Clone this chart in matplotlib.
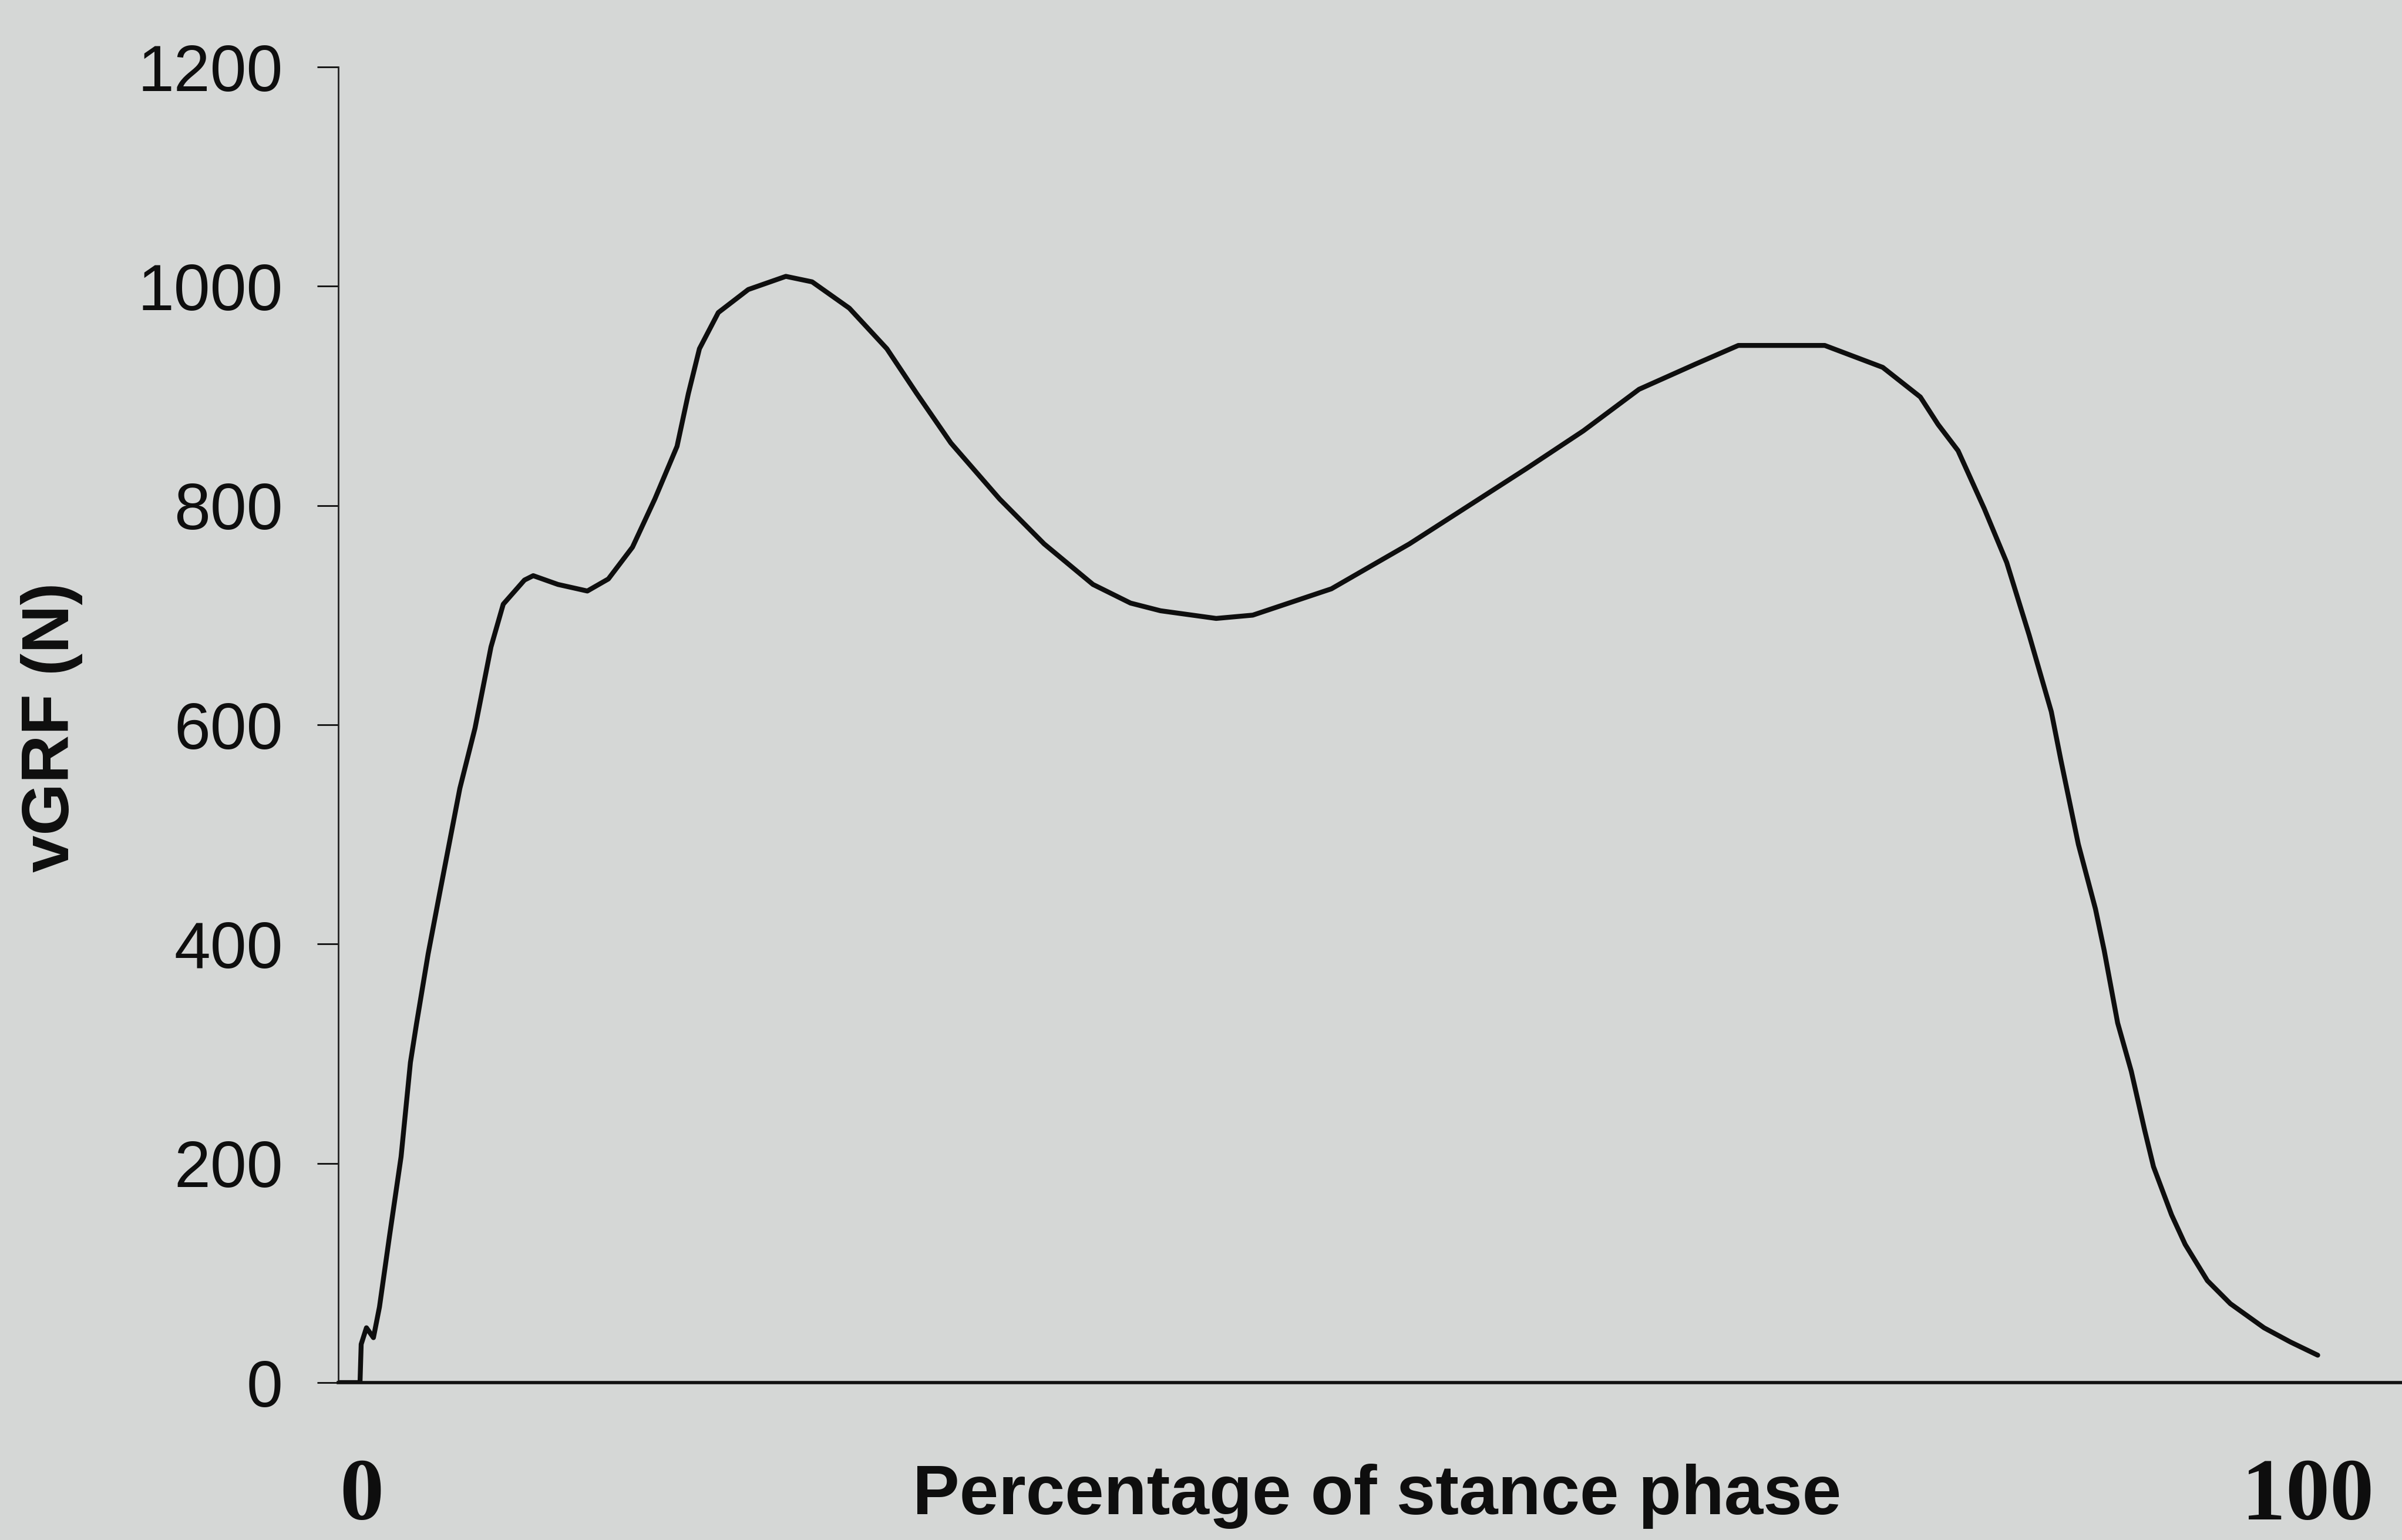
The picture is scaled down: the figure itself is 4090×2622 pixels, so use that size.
import matplotlib
matplotlib.use("Agg")
import matplotlib.pyplot as plt

# vertical ground reaction force over one stance phase
stance_pct = [-1.21, -0.09, -0.03, 0.24, 0.6, 0.91, 1.42, 2.02, 2.5, 2.81,
              3.41, 4.01, 5.04, 5.82, 6.64, 7.27, 8.36, 8.81, 10.08, 11.59,
              12.67, 13.91, 15.06, 16.2, 16.78, 17.35, 18.32, 19.86, 21.79, 23.14,
              25.05, 26.98, 28.52, 30.27, 32.77, 35.06, 37.57, 39.5, 41.04, 43.9,
              45.78, 49.82, 53.83, 59.87, 62.76, 65.63, 68.53, 70.73, 75.17, 78.15,
              80.08, 80.99, 82.02, 83.37, 84.52, 85.67, 86.81, 87.3, 88.2, 89.08,
              89.53, 90.22, 90.92, 91.61, 92.06, 92.99, 93.69, 94.83, 96.01, 97.74,
              99.1, 100.5]
vgrf = [0, 0, 35, 50, 41, 69, 133, 206, 292, 327,
        391, 447, 542, 597, 671, 710, 732, 736, 728, 722,
        733, 762, 806, 854, 902, 943, 976, 997, 1009, 1004,
        980, 943, 902, 857, 806, 765, 728, 711, 704, 697,
        700, 724, 765, 834, 868, 906, 929, 946, 946, 926,
        899, 874, 850, 797, 748, 682, 612, 568, 491, 432,
        394, 328, 284, 230, 197, 153, 126, 93, 72, 50,
        37, 25]

y_ticks = [0, 200, 400, 600, 800, 1000, 1200]
x_ticks = [0, 100]
x_tick_labels = ["0", "100"]

bg = "#d5d7d6"

fig = plt.figure(figsize=(20.45, 13.11), dpi=200, facecolor=bg)
ax = fig.add_axes([0.14083, 0.10221, 1 - 0.14083, 0.95652 - 0.10221])
ax.set_facecolor(bg)

ax.plot(stance_pct, vgrf, color="#0e0e0e", linewidth=3.0,
        solid_joinstyle="round", solid_capstyle="round")

ax.set_xlim(-1.207, 104.83)
ax.set_ylim(0, 1200)

for s in ["top", "right"]:
    ax.spines[s].set_visible(False)
ax.spines["left"].set_linewidth(1.0)
ax.spines["bottom"].set_linewidth(2.0)
ax.spines["left"].set_color("#222222")
ax.spines["bottom"].set_color("#111111")

ax.set_yticks(y_ticks)
ax.set_yticklabels([str(v) for v in y_ticks], fontfamily="Liberation Sans", fontsize=40)
ax.tick_params(axis="y", direction="out", length=13, width=1.0, pad=21, colors="#0e0e0e")

ax.set_xticks(x_ticks)
ax.set_xticklabels(x_tick_labels, fontfamily="Liberation Serif", fontweight="bold", fontsize=54)
ax.tick_params(axis="x", length=0, pad=46, colors="#0e0e0e")

ax.set_ylabel("vGRF (N)", fontfamily="Liberation Sans", fontweight="bold", fontsize=41,
              va="center", color="#0e0e0e")
ax.yaxis.set_label_coords(-0.1389, 0.498)

ax.set_xlabel("Percentage of stance phase", fontfamily="Liberation Sans", fontweight="bold",
              fontsize=43, va="center", color="#0e0e0e")
ax.xaxis.set_label_coords(0.5034, -0.0866)

fig.savefig("out.png", dpi=200, facecolor=bg)
